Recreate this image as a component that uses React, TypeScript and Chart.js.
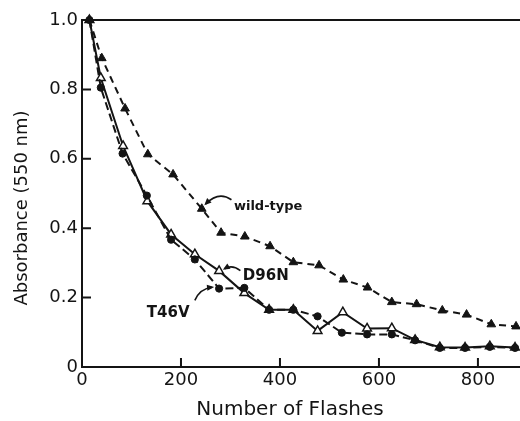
import React, { useEffect, useRef } from "react";
import { Chart, registerables } from "chart.js";

Chart.register(...registerables);

// Number of flashes (x) and absorbance at 550 nm (y)
const flashesWT = [15, 40, 87, 133, 184, 242, 281, 329, 380, 427, 479, 528, 577, 626, 676, 728, 777, 827, 877];
const wildType = [1.0, 0.89, 0.745, 0.613, 0.555, 0.456, 0.387, 0.376, 0.348, 0.302, 0.293, 0.252, 0.229, 0.187, 0.181, 0.163, 0.151, 0.123, 0.117];

const flashesT46V = [15, 38, 82, 131, 180, 228, 277, 328, 378, 427, 476, 525, 576, 626, 673, 723, 774, 824, 875];
const t46v = [1.0, 0.805, 0.615, 0.494, 0.367, 0.31, 0.226, 0.228, 0.165, 0.165, 0.146, 0.099, 0.094, 0.094, 0.077, 0.055, 0.055, 0.058, 0.055];

const flashesD96N = [15, 38, 83, 132, 180, 228, 277, 328, 378, 427, 476, 527, 576, 626, 673, 723, 774, 824, 875];
const d96n = [1.0, 0.833, 0.637, 0.478, 0.382, 0.325, 0.277, 0.213, 0.165, 0.165, 0.104, 0.158, 0.111, 0.112, 0.078, 0.057, 0.056, 0.06, 0.056];

const xTickValues = [0, 200, 400, 600, 800];
const yTickValues = [0, 0.2, 0.4, 0.6, 0.8, 1.0];

const xTitle = "Number of Flashes";
const yTitle = "Absorbance (550 nm)";

// Curve labels: text, anchor (data units), arrow start / control / end (data units)
const labelNames = ["wild-type", "D96N", "T46V"];
const labelAt = [
  [307, 0.462],
  [325, 0.261],
  [131, 0.156],
];
const arrowPaths = [
  [[302, 0.482], [276, 0.508], [250, 0.47]],
  [[320, 0.278], [303, 0.296], [288, 0.283]],
  [[228, 0.192], [238, 0.226], [263, 0.23]],
];

const INK = "#141414";

const toXY = (xs: number[], ys: number[]) => xs.map((x, i) => ({ x, y: ys[i] }));

const decorPlugin = {
  id: "decor",
  afterDraw(chart: any) {
    const { ctx, chartArea: a } = chart;
    const xs = chart.scales.x;
    const ys = chart.scales.y;
    ctx.save();
    ctx.strokeStyle = INK;
    ctx.fillStyle = INK;
    ctx.lineWidth = 2;
    // top frame line
    ctx.beginPath();
    ctx.moveTo(a.left, a.top);
    ctx.lineTo(a.right, a.top);
    ctx.stroke();
    // inward tick marks
    ctx.beginPath();
    xs.ticks.forEach((t: any) => {
      if (t.value > 0) {
        const px = xs.getPixelForValue(t.value);
        ctx.moveTo(px, a.bottom);
        ctx.lineTo(px, a.bottom - 9);
      }
    });
    ys.ticks.forEach((t: any) => {
      if (t.value > 0 && t.value < 1) {
        const py = ys.getPixelForValue(t.value);
        ctx.moveTo(a.left, py);
        ctx.lineTo(a.left + 9, py);
      }
    });
    ctx.stroke();

    // axis titles
    ctx.font = "20px 'DejaVu Sans'";
    ctx.textAlign = "center";
    ctx.textBaseline = "middle";
    ctx.fillText(xTitle, 290, 410);
    ctx.save();
    ctx.translate(22, 208);
    ctx.rotate(-Math.PI / 2);
    ctx.font = "18px 'DejaVu Sans'";
    ctx.fillText(yTitle, 0, 0);
    ctx.restore();

    // curve labels
    ctx.textAlign = "left";
    labelNames.forEach((name, i) => {
      ctx.font = i === 0 ? "bold 13px 'DejaVu Sans'" : "bold 15px 'DejaVu Sans'";
      ctx.fillText(name, xs.getPixelForValue(labelAt[i][0]), ys.getPixelForValue(labelAt[i][1]));
    });

    // arrows
    ctx.lineWidth = 1.6;
    arrowPaths.forEach((p) => {
      const [s, c, e] = p.map(([vx, vy]) => [xs.getPixelForValue(vx), ys.getPixelForValue(vy)]);
      ctx.beginPath();
      ctx.moveTo(s[0], s[1]);
      ctx.quadraticCurveTo(c[0], c[1], e[0], e[1]);
      ctx.stroke();
      const ang = Math.atan2(e[1] - c[1], e[0] - c[0]);
      const L = 6;
      ctx.beginPath();
      ctx.moveTo(e[0] + Math.cos(ang) * 2, e[1] + Math.sin(ang) * 2);
      ctx.lineTo(e[0] + Math.cos(ang + 2.6) * L, e[1] + Math.sin(ang + 2.6) * L);
      ctx.lineTo(e[0] + Math.cos(ang - 2.6) * L, e[1] + Math.sin(ang - 2.6) * L);
      ctx.closePath();
      ctx.fill();
    });
    ctx.restore();
  },
};

export default function App() {
  const ref = useRef<HTMLCanvasElement>(null);

  useEffect(() => {
    if (!ref.current) return;
    const tickFont = { family: "'DejaVu Sans'", size: 18 };
    const chart = new Chart(ref.current, {
      type: "line",
      data: {
        datasets: [
          {
            label: "wild-type",
            data: toXY(flashesWT, wildType),
            borderColor: INK,
            backgroundColor: INK,
            borderWidth: 2,
            borderDash: [7, 5],
            pointStyle: "triangle",
            pointRadius: 5,
            pointBorderWidth: 1,
            pointBackgroundColor: INK,
            pointBorderColor: INK,
            tension: 0,
            clip: false,
          },
          {
            label: "T46V",
            data: toXY(flashesT46V, t46v),
            borderColor: INK,
            backgroundColor: INK,
            borderWidth: 2,
            borderDash: [8, 4],
            pointStyle: "circle",
            pointRadius: 3.6,
            pointBorderWidth: 1,
            pointBackgroundColor: INK,
            pointBorderColor: INK,
            tension: 0,
            clip: false,
          },
          {
            label: "D96N",
            data: toXY(flashesD96N, d96n),
            borderColor: INK,
            backgroundColor: "#ffffff",
            borderWidth: 2,
            pointStyle: "triangle",
            pointRadius: 5,
            pointBorderWidth: 1.5,
            pointBackgroundColor: "#ffffff",
            pointBorderColor: INK,
            tension: 0,
            clip: false,
          },
        ],
      },
      options: {
        responsive: false,
        animation: false,
        devicePixelRatio: 1,
        layout: { autoPadding: false, padding: { top: 20, left: 0, right: 0, bottom: 0 } },
        plugins: {
          legend: { display: false },
          tooltip: { enabled: false },
        },
        scales: {
          x: {
            type: "linear",
            min: 0,
            max: 885,
            afterFit: (s: any) => {
              s.height = 54;
              s.paddingLeft = 0;
              s.paddingRight = 0;
            },
            afterBuildTicks: (s: any) => {
              s.ticks = xTickValues.map((v) => ({ value: v }));
            },
            ticks: {
              includeBounds: false,
              color: INK,
              font: tickFont,
              padding: 3,
              maxRotation: 0,
              callback: (v: any) => String(v),
            },
            grid: { display: false, drawTicks: false },
            border: { display: true, color: INK, width: 2 },
          },
          y: {
            type: "linear",
            min: 0,
            max: 1,
            afterFit: (s: any) => {
              s.width = 82;
              s.paddingTop = 0;
              s.paddingBottom = 0;
            },
            afterBuildTicks: (s: any) => {
              s.ticks = yTickValues.map((v) => ({ value: v }));
            },
            ticks: {
              color: INK,
              font: tickFont,
              padding: 4,
              callback: (v: any) => (Number(v) === 0 ? "0" : Number(v).toFixed(1)),
            },
            grid: { display: false, drawTicks: false },
            border: { display: true, color: INK, width: 2 },
          },
        },
      },
      plugins: [decorPlugin],
    } as any);
    return () => chart.destroy();
  }, []);

  return (
    <div style={{ position: "absolute", left: 0, top: 0, width: 520, height: 421, background: "#fff" }}>
      <canvas ref={ref} width={520} height={421} />
    </div>
  );
}
